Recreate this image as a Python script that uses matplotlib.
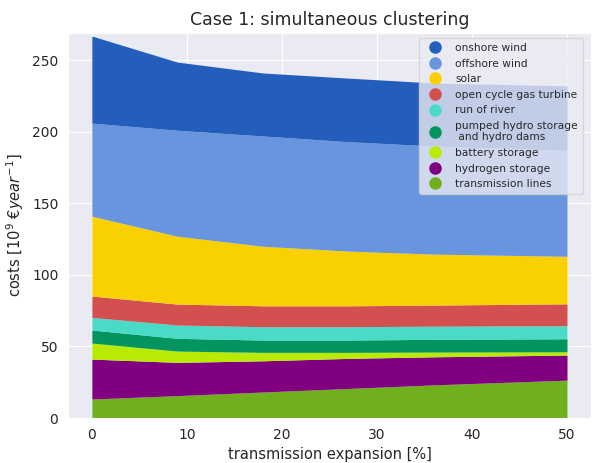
import matplotlib
matplotlib.use('Agg')
import matplotlib.pyplot as plt
from matplotlib.lines import Line2D
import seaborn as sns

sns.set_style('darkgrid')
plt.rcParams['font.family'] = ['DejaVu Sans']

# transmission expansion steps [%]
expansion = [0, 9, 18, 27, 36, 50]

# costs per technology [10^9 EUR/year], bottom to top
transmission_lines = [13.3, 15.7, 18.2, 20.7, 23.2, 26.5]
hydrogen_storage = [27.9, 23.2, 21.8, 21.0, 19.6, 17.5]
battery_storage = [11.2, 7.9, 5.9, 4.2, 3.3, 2.3]
pumped_hydro = [9.1, 8.9, 8.6, 8.6, 8.9, 9.1]
run_of_river = [8.8, 9.3, 9.3, 9.3, 9.2, 9.1]
ocgt = [14.9, 14.6, 14.6, 14.6, 14.7, 15.3]
solar = [55.8, 47.4, 41.6, 38.2, 35.6, 33.2]
offshore_wind = [65.0, 74.0, 77.0, 76.4, 75.5, 74.0]
onshore_wind = [60.8, 47.6, 44.0, 44.4, 44.0, 45.0]

labels = ['transmission lines', 'hydrogen storage', 'battery storage',
          'pumped hydro storage\n and hydro dams', 'run of river',
          'open cycle gas turbine', 'solar', 'offshore wind', 'onshore wind']
colors = ['#70af1d', '#800080', '#b8ea04', '#03945f', '#4adbc8',
          '#d35050', '#f9d002', '#6895dd', '#235ebc']

fig = plt.figure(figsize=(5.92, 4.63), dpi=100)
ax = fig.add_axes([0.115, 0.097, 0.883, 0.832])

ax.stackplot(expansion, transmission_lines, hydrogen_storage, battery_storage,
             pumped_hydro, run_of_river, ocgt, solar, offshore_wind,
             onshore_wind, colors=colors, labels=labels, linewidth=0)

ax.set_xlim(-2.5, 52.5)
ax.set_ylim(0, 269)
ax.set_title('Case 1: simultaneous clustering', fontsize=12.5)
ax.set_xlabel('transmission expansion [%]', fontsize=10.5)
ax.set_ylabel(r'costs [$10^9$ €$year^{-1}$]', fontsize=10.5)
ax.tick_params(labelsize=10)

# legend with round markers, top entry first
handles = []
for lab, col in zip(labels[::-1], colors[::-1]):
    handles.append(Line2D([], [], marker='o', color=col, linestyle='',
                          markersize=8, label=lab))
leg = ax.legend(handles=handles, loc='upper right', fontsize=7.7, framealpha=0.8,
                handletextpad=0.9, labelspacing=0.52, borderpad=0.45,
                bbox_to_anchor=(0.995, 1.0))
leg.get_frame().set_edgecolor('0.82')

fig.savefig('out.png', dpi=100)
